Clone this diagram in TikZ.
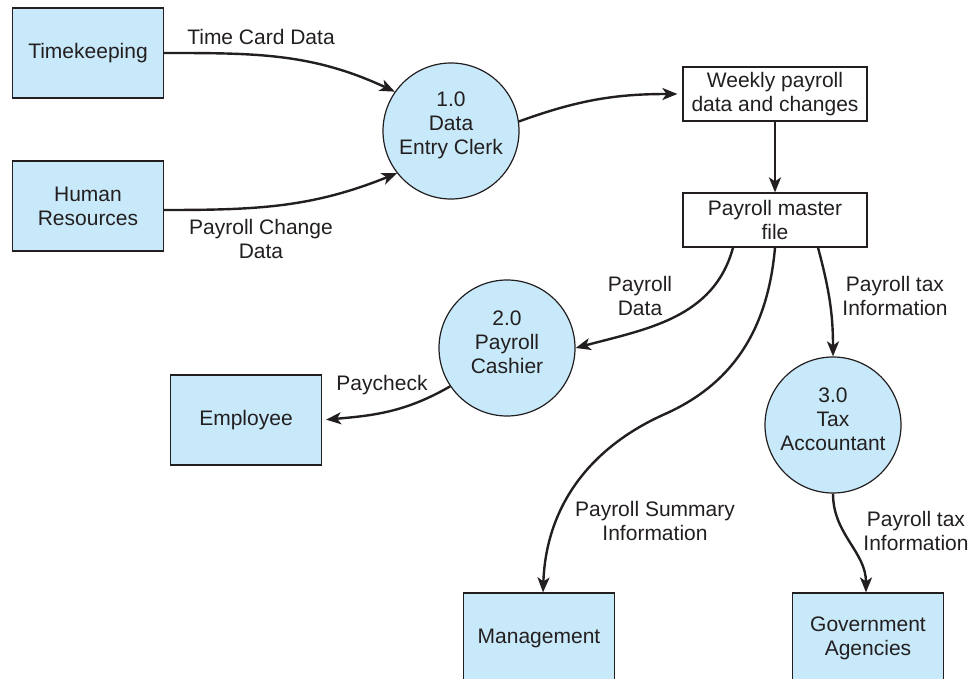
\documentclass[tikz,border=0pt]{standalone}
\usepackage{fontspec}
\setmainfont{Liberation Sans}
\usetikzlibrary{arrows.meta}
\definecolor{boxblue}{RGB}{200,233,249}
\definecolor{ink}{RGB}{35,31,32}
\begin{document}
\begin{tikzpicture}[x=1pt,y=-1pt,
  font=\fontsize{21}{24}\selectfont,
  entity/.style={draw=ink, line width=1.2pt, fill=boxblue, minimum width=151pt, minimum height=90pt, align=center, inner sep=0pt, text=ink},
  proc/.style={circle, draw=ink, line width=1.2pt, fill=boxblue, minimum size=136pt, inner sep=0pt},
  store/.style={draw=ink, line width=1.2pt, fill=white, minimum width=184pt, minimum height=54pt, align=center, inner sep=0pt, text=ink},
  flow/.style={draw=ink, line width=2.4pt, -{Stealth[length=15pt,width=12pt,inset=4pt]}},
  lbl/.style={align=center, text=ink, inner sep=0pt}
]
\clip (0,0) rectangle (972,679);
\fill[white] (0,0) rectangle (972,679);

\node[entity] (tk) at (88,53) {Timekeeping};
\node[entity] (hr) at (88,206) {Human\\Resources};
\node[proc] (c1) at (451,131) {};
\node[lbl] (t1) at ([yshift=6pt]c1.center) {1.0\\Data\\Entry Clerk};
\node[store] (wk) at (775,94) {Weekly payroll\\data and changes};
\node[store] (pm) at (775,220) {Payroll master\\file};
\node[proc] (c2) at (507,348) {};
\node[lbl] (t2) at ([yshift=6pt]c2.center) {2.0\\Payroll\\Cashier};
\node[entity] (emp) at (246,420) {Employee};
\node[proc] (c3) at (833,425) {};
\node[lbl] (t3) at ([yshift=6pt]c3.center) {3.0\\Tax\\Accountant};
\node[entity] (mg) at (539,638) {Management};
\node[entity] (ga) at (868,638) {Government\\Agencies};

\coordinate (sm) at (665,414);

\draw[flow] (tk.east) to[out=0,in=155] (c1.145);
\draw[flow] ([yshift=-4pt]hr.east) to[out=0,in=202] (c1.218);
\draw[flow, shorten >=5pt] (c1.8) to[out=20,in=180] (wk.west);
\draw[flow] (wk.south) -- (pm.north);
\draw[flow] ([xshift=-42pt]pm.south) to[out=-105,in=15] (c2.east);
\draw[flow] (pm.south) to[out=-95,in=24] (sm) to[out=204,in=88] ([xshift=4pt]mg.north);
\draw[flow] ([xshift=43pt]pm.south) to[out=-75,in=90] (c3.north);
\draw[flow] (c3.south) to[out=-90,in=90] ([xshift=-2pt]ga.north);
\draw[flow, shorten >=4pt] (c2.214) to[out=210,in=5] (emp.east);

\node[lbl] (l1) at (261,37) {Time Card Data};
\node[lbl] (l2) at (261,239) {Payroll Change\\Data};
\node[lbl] (l3) at (640,296) {Payroll\\Data};
\node[lbl] (l4) at (895,296) {Payroll tax\\Information};
\node[lbl] (l5) at (382,385) {Paycheck};
\node[lbl] (l6) at (655,521) {Payroll Summary\\Information};
\node[lbl] (l7) at (916,531) {Payroll tax\\Information};
\end{tikzpicture}
\end{document}
